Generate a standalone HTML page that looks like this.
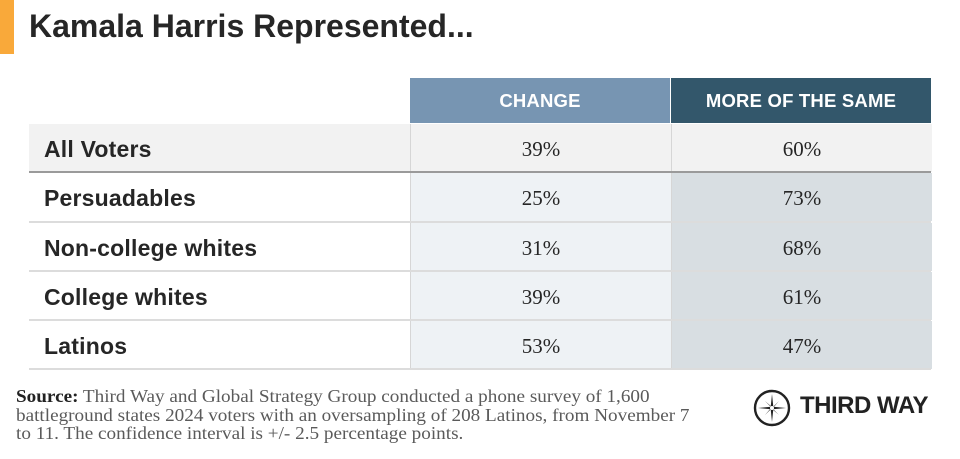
<!DOCTYPE html>
<html>
<head>
<meta charset="utf-8">
<style>
  html,body{margin:0;padding:0;background:#fff;}
  body{width:960px;height:459px;position:relative;overflow:hidden;font-family:"Liberation Sans",sans-serif;}
  .abs{position:absolute;}
  .bar{left:0;top:0;width:14px;height:54px;background:#f9a93a;}
  .title{left:29px;top:8px;font-size:32px;font-weight:bold;color:#262626;letter-spacing:0px;white-space:nowrap;}
  .hdr{top:78px;height:45px;color:#fff;font-weight:bold;font-size:18.5px;text-align:center;line-height:46px;letter-spacing:0.2px;}
  .h1{left:410px;width:260px;background:#7795b2;}
  .h2{left:671px;width:260px;background:#33576b;}
  .row{left:29px;width:902px;height:48px;}
  .lbl{position:absolute;left:15px;top:0;line-height:50px;font-size:23px;font-weight:bold;color:#262626;white-space:nowrap;letter-spacing:0.2px;}
  .c1,.c2{position:absolute;top:0;height:100%;text-align:center;line-height:50px;font-family:"Liberation Serif",serif;font-size:21px;color:#262626;}
  .c1{left:381px;width:260px;background:#eef2f5;border-left:1px solid #d6d6d6;}
  .c2{left:642px;width:260px;background:#d8dee2;border-left:1px solid #d6d6d6;}
  .sep{left:29px;width:902px;height:2px;background:#dcdcdc;}
  .src{left:16px;top:387px;font-family:"Liberation Serif",serif;font-size:18px;line-height:18.5px;color:#5a5a5a;white-space:nowrap;transform:scaleX(1.065);transform-origin:0 0;}
  .src b{color:#222;}
  .logo{left:800px;top:392px;font-size:24px;font-weight:bold;color:#222;letter-spacing:-0.5px;white-space:nowrap;}
</style>
</head>
<body>
<div class="abs bar"></div>
<div class="abs title">Kamala Harris Represented...</div>

<div class="abs hdr h1">CHANGE</div>
<div class="abs hdr h2">MORE OF THE SAME</div>

<!-- All Voters -->
<div class="abs row" style="top:124px;height:48px;background:#f2f2f2;">
  <div class="lbl">All Voters</div>
  <div class="c1" style="background:#f2f2f2;">39%</div>
  <div class="c2" style="background:#f2f2f2;">60%</div>
</div>
<div class="abs" style="left:29px;top:171px;width:902px;height:2px;background:#9a9a9a;"></div>

<div class="abs row" style="top:173px;">
  <div class="lbl">Persuadables</div>
  <div class="c1">25%</div>
  <div class="c2">73%</div>
</div>
<div class="abs sep" style="top:221px;"></div>

<div class="abs row" style="top:223px;">
  <div class="lbl">Non-college whites</div>
  <div class="c1">31%</div>
  <div class="c2">68%</div>
</div>
<div class="abs sep" style="top:270px;"></div>

<div class="abs row" style="top:272px;">
  <div class="lbl">College whites</div>
  <div class="c1">39%</div>
  <div class="c2">61%</div>
</div>
<div class="abs sep" style="top:319px;"></div>

<div class="abs row" style="top:321px;">
  <div class="lbl">Latinos</div>
  <div class="c1">53%</div>
  <div class="c2">47%</div>
</div>
<div class="abs sep" style="top:368px;"></div>

<div class="abs src"><b>Source:</b> Third Way and Global Strategy Group conducted a phone survey of 1,600<br>battleground states 2024 voters with an oversampling of 208 Latinos, from November 7<br>to 11. The confidence interval is +/- 2.5 percentage points.</div>

<svg class="abs" style="left:752px;top:388px;" width="40" height="40" viewBox="0 0 40 40">
  <circle cx="20" cy="20" r="17" fill="none" stroke="#222" stroke-width="2.4"/>
  <polygon points="20,6 21.3,18.7 34,20 21.3,21.3 20,34 18.7,21.3 6,20 18.7,18.7" fill="#222"/>
  <polygon points="13,13 20.5,19.5 27,13 20.5,20.5 27,27 19.5,20.5 13,27 19.5,19.5" fill="#222"/>
  <circle cx="20" cy="20" r="2" fill="#fff"/>
</svg>
<div class="abs logo">THIRD WAY</div>
</body>
</html>
